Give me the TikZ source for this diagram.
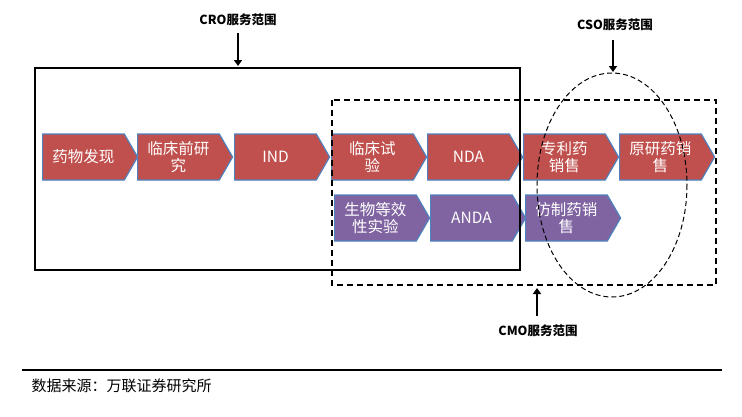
\documentclass[tikz,border=0pt]{standalone}
\usepackage{fontspec}
\setmainfont{Liberation Sans}
\newfontfamily\cjk{Noto Sans CJK SC}
\usetikzlibrary{shapes.symbols,arrows.meta}
\definecolor{rd}{HTML}{C0504D}
\definecolor{pp}{HTML}{8064A2}
\definecolor{bd}{HTML}{4F81BD}
\begin{document}
\begin{tikzpicture}[x=1pt,y=-1pt,
 chev/.style={signal,signal to=east,signal pointer angle=120,draw=bd,line width=1.2pt,text=white,
   minimum width=95pt,minimum height=46pt,inner sep=1pt,font=\cjk\fontsize{15.5}{17}\selectfont,align=center,anchor=west},
 rchev/.style={chev,fill=rd},
 pchev/.style={chev,fill=pp},
 lab/.style={font=\cjk\bfseries\fontsize{12.5}{14}\selectfont},
 big/.style={line width=2.2pt,-{Triangle[width=8pt,length=6pt]}}]
\useasboundingbox (0,0) rectangle (742,416);
\node[rchev] (a1) at (42,157) {药物发现};
\node[rchev] (a2) at (137,157) {临床前研\\究};
\node[rchev] (a3) at (234,157) {IND};
\node[rchev] (a4) at (331,157) {临床试\\验};
\node[rchev] (a5) at (427,157) {NDA};
\node[rchev] (a6) at (523,157) {专利药\\销售};
\node[rchev] (a7) at (619,157) {原研药销\\售};
\node[pchev] (b1) at (334,218) {生物等效\\性实验};
\node[pchev] (b2) at (430,218) {ANDA};
\node[pchev] (b3) at (525,218) {仿制药销\\售};
\draw[line width=1.5pt] (35,68) rectangle (520,270);
\draw[line width=1.5pt,dash pattern=on 6pt off 4pt] (332,100) rectangle (716,285);
\draw[line width=1pt,dash pattern=on 5pt off 3pt] (612,185) ellipse [x radius=75,y radius=112];
\node[lab] (cro) at (238,20) {CRO服务范围};
\coordinate (croe) at (238,66);
\draw[big] (238,33) -- (croe);
\node[lab] (cso) at (615,25) {CSO服务范围};
\coordinate (csoe) at (613,72);
\draw[big] (613,40) -- (csoe);
\node[lab] (cmo) at (538,331) {CMO服务范围};
\coordinate (cmoe) at (537,288);
\draw[big] (537,316) -- (cmoe);
\draw[line width=2pt] (22,370) -- (722,370);
\node[anchor=west,font=\cjk\fontsize{15}{17}\selectfont] (src) at (28,386) {数据来源：万联证券研究所};
\end{tikzpicture}
\end{document}
